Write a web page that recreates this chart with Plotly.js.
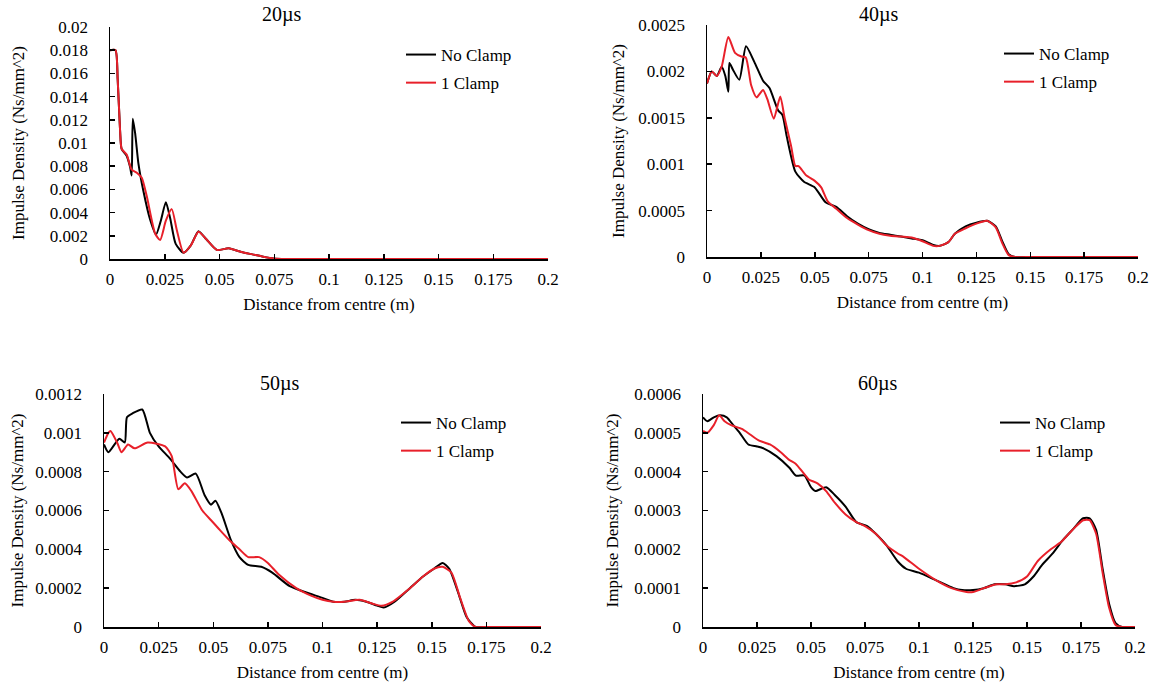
<!DOCTYPE html>
<html>
<head>
<meta charset="utf-8">
<script src="https://cdn.plot.ly/plotly-3.0.1.min.js"></script>
<style>html,body{margin:0;padding:0;background:#fff;}#chart{width:1158px;height:688px;}</style>
</head>
<body>
<div id="chart"></div>
<script>
// ---------- Data ----------
const seriesNames = ["No Clamp", "1 Clamp"];
const panelTitles = ["20µs", "40µs", "50µs", "60µs"];
const xAxisTitle = "Distance from centre (m)";
const yAxisTitle = "Impulse Density (Ns/mm^2)";

const xTickVals = [0, 0.025, 0.05, 0.075, 0.1, 0.125, 0.15, 0.175, 0.2];
const xTickText = ["0", "0.025", "0.05", "0.075", "0.1", "0.125", "0.15", "0.175", "0.2"];

const yTickVals20 = [0, 0.002, 0.004, 0.006, 0.008, 0.01, 0.012, 0.014, 0.016, 0.018, 0.02];
const yTickText20 = ["0", "0.002", "0.004", "0.006", "0.008", "0.01", "0.012", "0.014", "0.016", "0.018", "0.02"];
const yTickVals40 = [0, 0.0005, 0.001, 0.0015, 0.002, 0.0025];
const yTickText40 = ["0", "0.0005", "0.001", "0.0015", "0.002", "0.0025"];
const yTickVals50 = [0, 0.0002, 0.0004, 0.0006, 0.0008, 0.001, 0.0012];
const yTickText50 = ["0", "0.0002", "0.0004", "0.0006", "0.0008", "0.001", "0.0012"];
const yTickVals60 = [0, 0.0001, 0.0002, 0.0003, 0.0004, 0.0005, 0.0006];
const yTickText60 = ["0", "0.0001", "0.0002", "0.0003", "0.0004", "0.0005", "0.0006"];

// 20 µs
const x20NoClamp = [0, 0.0025, 0.0035, 0.0046, 0.0053, 0.0076, 0.0092, 0.0099, 0.0104, 0.0115, 0.013, 0.0152, 0.0183, 0.021, 0.0232, 0.0255, 0.0275, 0.030, 0.0336, 0.037, 0.0404, 0.044, 0.0488, 0.0542, 0.06, 0.065, 0.07, 0.0748, 0.08, 0.1, 0.125, 0.15, 0.175, 0.2];
const y20NoClamp = [0.018, 0.018, 0.0155, 0.0111, 0.0095, 0.0089, 0.0079, 0.0072, 0.0121, 0.0108, 0.0082, 0.0059, 0.0034, 0.0021, 0.0033, 0.0049, 0.0035, 0.0013, 0.00054, 0.0012, 0.0024, 0.0017, 0.00078, 0.00092, 0.0006, 0.0004, 0.0002, 0.00005, 0, 0, 0, 0, 0, 0];
const x20Clamp = [0, 0.0025, 0.0035, 0.0046, 0.0053, 0.0076, 0.0099, 0.0125, 0.0145, 0.0168, 0.0206, 0.0229, 0.0255, 0.0282, 0.0305, 0.0336, 0.037, 0.0404, 0.044, 0.0488, 0.0542, 0.06, 0.065, 0.07, 0.0748, 0.08, 0.1, 0.125, 0.15, 0.175, 0.2];
const y20Clamp = [0.018, 0.018, 0.0155, 0.0111, 0.0095, 0.009, 0.0077, 0.0074, 0.0070, 0.0054, 0.0022, 0.00164, 0.0033, 0.0043, 0.0025, 0.00054, 0.0012, 0.00235, 0.0017, 0.00078, 0.00092, 0.0006, 0.0004, 0.0002, 0.00005, 0, 0, 0, 0, 0, 0];

// 40 µs
const x40NoClamp = [0, 0.0022, 0.0045, 0.0068, 0.0085, 0.0099, 0.0104, 0.012, 0.015, 0.0181, 0.022, 0.026, 0.029, 0.033, 0.035, 0.037, 0.041, 0.045, 0.05, 0.055, 0.06, 0.065, 0.07, 0.075, 0.08, 0.085, 0.09, 0.095, 0.1, 0.105, 0.108, 0.112, 0.115, 0.12, 0.125, 0.13, 0.134, 0.137, 0.14, 0.143, 0.15, 0.16, 0.175, 0.19, 0.2];
const y40NoClamp = [0.00187, 0.002, 0.00195, 0.00205, 0.00195, 0.00178, 0.00209, 0.00202, 0.00191, 0.00227, 0.0021, 0.0019, 0.00182, 0.00158, 0.00153, 0.0013, 0.00092, 0.00081, 0.00075, 0.00059, 0.00054, 0.00044, 0.00036, 0.0003, 0.00026, 0.00024, 0.00022, 0.0002, 0.00018, 0.00013, 0.00012, 0.00016, 0.00025, 0.00033, 0.00037, 0.00039, 0.00033, 0.00017, 0.00003, 0, 0, 0, 0, 0, 0];
const x40Clamp = [0, 0.0022, 0.0045, 0.0068, 0.0099, 0.013, 0.016, 0.018, 0.0205, 0.023, 0.026, 0.028, 0.031, 0.034, 0.036, 0.039, 0.041, 0.0425, 0.046, 0.05, 0.053, 0.056, 0.06, 0.065, 0.07, 0.075, 0.08, 0.085, 0.09, 0.095, 0.1, 0.105, 0.108, 0.112, 0.115, 0.12, 0.125, 0.13, 0.134, 0.137, 0.14, 0.143, 0.15, 0.16, 0.175, 0.19, 0.2];
const y40Clamp = [0.00187, 0.002, 0.00195, 0.00205, 0.00237, 0.0022, 0.00216, 0.00215, 0.00185, 0.00172, 0.0018, 0.0017, 0.00149, 0.00173, 0.0015, 0.0012, 0.00098, 0.00098, 0.00088, 0.00082, 0.00075, 0.0006, 0.00052, 0.00042, 0.00035, 0.00029, 0.00025, 0.00023, 0.00022, 0.00021, 0.00017, 0.00012, 0.00012, 0.00016, 0.00025, 0.00031, 0.00036, 0.00039, 0.00032, 0.00015, 0.00002, 0, 0, 0, 0, 0, 0];

// 50 µs
const x50NoClamp = [0, 0.002, 0.007, 0.0095, 0.0105, 0.013, 0.0175, 0.021, 0.025, 0.03, 0.035, 0.038, 0.042, 0.046, 0.049, 0.051, 0.054, 0.058, 0.062, 0.066, 0.072, 0.077, 0.085, 0.092, 0.1, 0.105, 0.11, 0.115, 0.12, 0.125, 0.128, 0.133, 0.14, 0.146, 0.151, 0.155, 0.158, 0.162, 0.166, 0.17, 0.175, 0.18, 0.19, 0.2];
const y50NoClamp = [0.00094, 0.0009, 0.00097, 0.00095, 0.00108, 0.0011, 0.00112, 0.001, 0.00093, 0.00087, 0.0008, 0.00077, 0.00079, 0.00068, 0.00063, 0.00065, 0.00058, 0.00045, 0.00036, 0.00032, 0.00031, 0.00028, 0.00021, 0.00018, 0.00015, 0.00013, 0.00013, 0.00014, 0.00013, 0.00011, 0.0001, 0.00013, 0.0002, 0.00026, 0.0003, 0.00033, 0.0003, 0.00018, 0.00005, 0, 0, 0, 0, 0];
const x50Clamp = [0, 0.002, 0.003, 0.006, 0.008, 0.011, 0.014, 0.02, 0.028, 0.031, 0.034, 0.037, 0.04, 0.045, 0.049, 0.053, 0.058, 0.062, 0.066, 0.071, 0.075, 0.08, 0.088, 0.095, 0.1, 0.105, 0.11, 0.117, 0.123, 0.127, 0.132, 0.14, 0.146, 0.151, 0.155, 0.159, 0.163, 0.167, 0.17, 0.175, 0.18, 0.19, 0.2];
const y50Clamp = [0.00095, 0.001, 0.00101, 0.00095, 0.0009, 0.00094, 0.00092, 0.00095, 0.00093, 0.00088, 0.00071, 0.00074, 0.0007, 0.0006, 0.00055, 0.0005, 0.00044, 0.0004, 0.00036, 0.00036, 0.00033, 0.00027, 0.0002, 0.00016, 0.00014, 0.00013, 0.00013, 0.00014, 0.00012, 0.00011, 0.00013, 0.0002, 0.00026, 0.0003, 0.00031, 0.00028, 0.00015, 0.00003, 0, 0, 0, 0, 0];

// 60 µs
const x60NoClamp = [0, 0.002, 0.005, 0.008, 0.011, 0.014, 0.017, 0.021, 0.025, 0.028, 0.034, 0.04, 0.043, 0.047, 0.05, 0.052, 0.057, 0.061, 0.066, 0.071, 0.076, 0.08, 0.085, 0.09, 0.094, 0.1, 0.108, 0.116, 0.12, 0.125, 0.13, 0.135, 0.14, 0.144, 0.149, 0.153, 0.157, 0.162, 0.166, 0.171, 0.176, 0.179, 0.182, 0.185, 0.188, 0.191, 0.194, 0.197, 0.2];
const y60NoClamp = [0.00054, 0.00053, 0.00054, 0.000545, 0.00054, 0.00052, 0.0005, 0.00047, 0.000465, 0.00046, 0.00044, 0.00041, 0.00039, 0.00039, 0.00036, 0.00035, 0.00036, 0.00034, 0.00031, 0.00027, 0.00026, 0.00024, 0.00021, 0.00017, 0.00015, 0.00014, 0.00012, 0.0001, 0.000095, 0.000095, 0.0001, 0.00011, 0.00011, 0.000105, 0.00011, 0.00013, 0.00016, 0.00019, 0.00022, 0.00025, 0.00028, 0.00028, 0.00025, 0.00015, 0.00006, 0.00001, 0, 0, 0];
const x60Clamp = [0, 0.002, 0.005, 0.0075, 0.01, 0.013, 0.018, 0.022, 0.026, 0.031, 0.036, 0.04, 0.043, 0.046, 0.049, 0.053, 0.057, 0.061, 0.066, 0.071, 0.075, 0.08, 0.085, 0.09, 0.093, 0.1, 0.108, 0.115, 0.122, 0.125, 0.13, 0.136, 0.14, 0.145, 0.15, 0.155, 0.161, 0.166, 0.171, 0.176, 0.179, 0.182, 0.185, 0.188, 0.191, 0.194, 0.197, 0.2];
const y60Clamp = [0.000505, 0.0005, 0.00052, 0.000545, 0.00053, 0.00052, 0.00051, 0.000495, 0.00048, 0.00047, 0.00045, 0.00043, 0.00042, 0.0004, 0.00038, 0.00037, 0.00035, 0.00032, 0.00029, 0.00027, 0.00026, 0.00024, 0.00021, 0.00019, 0.00018, 0.00015, 0.00012, 0.0001, 0.00009, 0.00009, 0.0001, 0.00011, 0.00011, 0.000115, 0.00013, 0.00017, 0.0002, 0.00022, 0.00025, 0.000275, 0.000275, 0.00024, 0.00014, 0.00005, 0.000005, 0, 0, 0];

// ---------- Build ----------
const FONT = "Liberation Serif, Times New Roman, serif";
const BLACK = "#000000", RED = "#e8202a";
const W = 1158, H = 688;

const panels = [
  {xs: [x20NoClamp, x20Clamp], ys: [y20NoClamp, y20Clamp], yr: 0.02, tv: yTickVals20, tt: yTickText20,
   px: [110, 548], py: [259, 27], title: [282, 14], legend: [401, 37], ystand: 21},
  {xs: [x40NoClamp, x40Clamp], ys: [y40NoClamp, y40Clamp], yr: 0.0025, tv: yTickVals40, tt: yTickText40,
   px: [707, 1138], py: [257, 25], title: [879, 14], legend: [999, 36], ystand: 9},
  {xs: [x50NoClamp, x50Clamp], ys: [y50NoClamp, y50Clamp], yr: 0.0012, tv: yTickVals50, tt: yTickText50,
   px: [104, 541], py: [627, 394], title: [280, 383], legend: [396, 405], ystand: 7},
  {xs: [x60NoClamp, x60Clamp], ys: [y60NoClamp, y60Clamp], yr: 0.0006, tv: yTickVals60, tt: yTickText60,
   px: [703, 1135], py: [627, 394], title: [878, 383], legend: [995, 405], ystand: 11}
];

const data = [];
const layout = {
  width: W, height: H,
  margin: {l: 0, r: 0, t: 0, b: 0},
  paper_bgcolor: "#fff", plot_bgcolor: "#fff",
  font: {family: FONT, size: 17, color: "#000"},
  showlegend: true,
  annotations: []
};

panels.forEach((p, i) => {
  const n = i + 1;
  const xa = n === 1 ? "x" : "x" + n;
  const ya = n === 1 ? "y" : "y" + n;
  const lg = n === 1 ? "legend" : "legend" + n;
  [0, 1].forEach(s => {
    data.push({
      type: "scatter", mode: "lines",
      x: p.xs[s], y: p.ys[s],
      xaxis: xa, yaxis: ya,
      name: seriesNames[s],
      legend: lg, legendgroup: "g" + n + "_" + s,
      line: {color: s === 0 ? BLACK : RED, width: 2, shape: "spline", smoothing: 0.6},
      hoverinfo: "skip"
    });
  });
  const axx = n === 1 ? "xaxis" : "xaxis" + n;
  const axy = n === 1 ? "yaxis" : "yaxis" + n;
  layout[axx] = {
    domain: [p.px[0] / W, p.px[1] / W],
    anchor: ya, range: [0, 0.2],
    tickmode: "array", tickvals: xTickVals, ticktext: xTickText,
    ticks: "inside", ticklen: 5, tickwidth: 1.5, tickcolor: "#000",
    ticklabelstandoff: 4,
    showline: true, linecolor: "#000", linewidth: 1.5,
    showgrid: false, zeroline: false,
    tickfont: {family: FONT, size: 17, color: "#000"},
    title: {text: xAxisTitle, font: {family: FONT, size: 17, color: "#000"}, standoff: 10},
    fixedrange: true
  };
  layout[axy] = {
    domain: [1 - p.py[0] / H, 1 - p.py[1] / H],
    anchor: xa, range: [0, p.yr],
    tickmode: "array", tickvals: p.tv, ticktext: p.tt,
    ticks: "inside", ticklen: 5, tickwidth: 1.5, tickcolor: "#000",
    ticklabelstandoff: 17,
    showline: true, linecolor: "#000", linewidth: 1.5,
    showgrid: false, zeroline: false,
    tickfont: {family: FONT, size: 17, color: "#000"},
    title: {text: yAxisTitle, font: {family: FONT, size: 17, color: "#000"}, standoff: p.ystand},
    fixedrange: true
  };
  layout[lg] = {
    x: p.legend[0] / W, y: 1 - p.legend[1] / H,
    xanchor: "left", yanchor: "top",
    bgcolor: "rgba(0,0,0,0)", borderwidth: 0,
    font: {family: FONT, size: 17, color: "#000"},
    traceorder: "grouped", tracegroupgap: 3
  };
  layout.annotations.push({
    text: panelTitles[i], xref: "paper", yref: "paper",
    x: p.title[0] / W, y: 1 - p.title[1] / H,
    xanchor: "center", yanchor: "middle", showarrow: false,
    font: {family: FONT, size: 20, color: "#000"}
  });
});

Plotly.newPlot("chart", data, layout, {displayModeBar: false, staticPlot: true});
</script>
</body>
</html>
